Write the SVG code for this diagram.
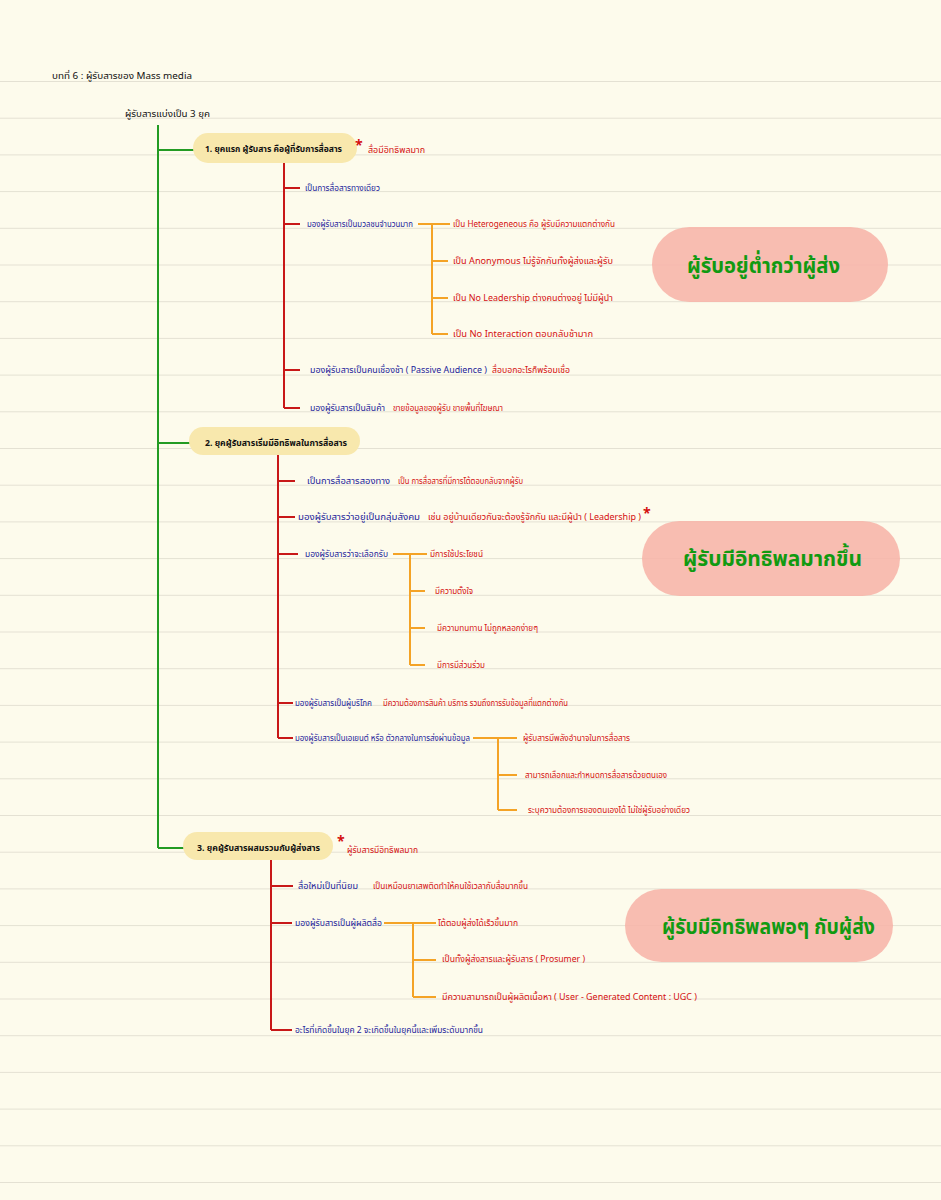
<svg xmlns="http://www.w3.org/2000/svg" width="941" height="1200" viewBox="0 0 941 1200">
<defs>
<pattern id="ruled" x="0" y="81" width="941" height="36.7" patternUnits="userSpaceOnUse">
<rect x="0" y="0" width="941" height="1" fill="#e4e1d3"/>
</pattern>
<style>
text{font-family:"Noto Sans Thai","Noto Sans","Liberation Sans",sans-serif;}
.t{font-size:9px;fill:#111;}
.b{font-size:9px;fill:#1c1c9a;}
.r{font-size:9px;fill:#d41010;}
.h{font-size:9px;fill:#111;font-weight:bold;}
.star{font-size:14px;fill:#d41010;font-weight:bold;}
.big{font-size:22px;fill:#119a11;font-weight:bold;}
.g{stroke:#239b23;stroke-width:2;fill:none;}
.red{stroke:#c81818;stroke-width:2;fill:none;}
.o{stroke:#f4a326;stroke-width:2;fill:none;}
.ypill{fill:#f8e8ad;}
.spill{fill:#f7b4a9;opacity:0.88;}
</style>
</defs>
<rect width="941" height="1200" fill="#fdfbec"/>
<rect x="0" y="81" width="941" height="1119" fill="url(#ruled)"/>

<g id="title">
<text class="t" x="52" y="79" textLength="140" lengthAdjust="spacingAndGlyphs">บทที่ 6  :  ผู้รับสารของ Mass media</text>
</g>
<g id="root">
<text class="t" x="125" y="117" textLength="85" lengthAdjust="spacingAndGlyphs">ผู้รับสารแบ่งเป็น  3  ยุค</text>
</g>

<g id="connectors">
<path class="g" d="M158 125 V848 M158 150 H195 M158 443 H191 M158 848 H185"/>
<path class="red" d="M284 163 V408 M284 188 H300 M284 224 H300 M284 370 H300 M284 408 H300"/>
<path class="o" d="M418 224 H450 M432 224 V334 M432 261 H448 M432 298 H448 M432 334 H448"/>
<path class="red" d="M278 455 V738 M278 481 H295 M278 517 H295 M278 554 H298 M278 703 H293 M278 738 H293"/>
<path class="o" d="M393 554 H427 M410 554 V665 M410 591 H425 M410 628 H425 M410 665 H425"/>
<path class="o" d="M473 738 H517 M498 738 V810 M498 775 H517 M498 810 H517"/>
<path class="red" d="M271 860 V1030 M271 886 H293 M271 923 H292 M271 1030 H292"/>
<path class="o" d="M384 923 H436 M413 923 V997 M413 960 H436 M413 997 H436"/>
</g>

<g id="era1">
<rect class="ypill" x="193" y="133" width="164" height="30" rx="15"/>
<text class="h" x="205" y="152" textLength="137" lengthAdjust="spacingAndGlyphs">1.   ยุคแรก ผู้รับสาร คือผู้ที่รับการสื่อสาร</text>
<text class="star" x="355" y="150">*</text>
<text class="r" x="368" y="153" textLength="57" lengthAdjust="spacingAndGlyphs">สื่อมีอิทธิพลมาก</text>
</g>
<g id="e1-a"><text class="b" x="305" y="191" textLength="75" lengthAdjust="spacingAndGlyphs">เป็นการสื่อสารทางเดียว</text></g>
<g id="e1-b"><text class="b" x="307" y="227" textLength="106" lengthAdjust="spacingAndGlyphs">มองผู้รับสารเป็นมวลชนจำนวนมาก</text></g>
<g id="e1-b1"><text class="r" x="453" y="227" textLength="162" lengthAdjust="spacingAndGlyphs">เป็น  Heterogeneous  คือ ผู้รับมีความแตกต่างกัน</text></g>
<g id="e1-b2"><text class="r" x="453" y="264" textLength="160" lengthAdjust="spacingAndGlyphs">เป็น  Anonymous  ไม่รู้จักกันทั้งผู้ส่งและผู้รับ</text></g>
<g id="e1-b3"><text class="r" x="453" y="301" textLength="160" lengthAdjust="spacingAndGlyphs">เป็น  No  Leadership  ต่างคนต่างอยู่ ไม่มีผู้นำ</text></g>
<g id="e1-b4"><text class="r" x="453" y="337" textLength="140" lengthAdjust="spacingAndGlyphs">เป็น  No  Interaction  ตอบกลับช้ามาก</text></g>
<g id="e1-c"><text class="b" x="310" y="373" textLength="177" lengthAdjust="spacingAndGlyphs">มองผู้รับสารเป็นคนเชื่องช้า  ( Passive Audience )</text><text class="r" x="492" y="373" textLength="78" lengthAdjust="spacingAndGlyphs">สื่อบอกอะไรก็พร้อมเชื่อ</text></g>
<g id="e1-d"><text class="b" x="310" y="411" textLength="75" lengthAdjust="spacingAndGlyphs">มองผู้รับสารเป็นสินค้า</text><text class="r" x="393" y="411" textLength="110" lengthAdjust="spacingAndGlyphs">ขายข้อมูลของผู้รับ  ขายพื้นที่โฆษณา</text></g>

<g id="era2">
<rect class="ypill" x="189" y="427" width="171" height="28" rx="14"/>
<text class="h" x="205" y="446" textLength="142" lengthAdjust="spacingAndGlyphs">2.   ยุคผู้รับสารเริ่มมีอิทธิพลในการสื่อสาร</text>
</g>
<g id="e2-a"><text class="b" x="307" y="484" textLength="83" lengthAdjust="spacingAndGlyphs">เป็นการสื่อสารสองทาง</text><text class="r" x="398" y="484" textLength="125" lengthAdjust="spacingAndGlyphs">เป็น   การสื่อสารที่มีการโต้ตอบกลับจากผู้รับ</text></g>
<g id="e2-b"><text class="b" x="298" y="520" textLength="122" lengthAdjust="spacingAndGlyphs">มองผู้รับสารว่าอยู่เป็นกลุ่มสังคม</text><text class="r" x="428" y="520" textLength="213" lengthAdjust="spacingAndGlyphs">เช่น  อยู่บ้านเดียวกันจะต้องรู้จักกัน และมีผู้นำ  ( Leadership )</text><text class="star" x="643" y="518">*</text></g>
<g id="e2-c"><text class="b" x="305" y="557" textLength="83" lengthAdjust="spacingAndGlyphs">มองผู้รับสารว่าจะเลือกรับ</text></g>
<g id="e2-c1"><text class="r" x="430" y="557" textLength="53" lengthAdjust="spacingAndGlyphs">มีการใช้ประโยชน์</text></g>
<g id="e2-c2"><text class="r" x="435" y="594" textLength="38" lengthAdjust="spacingAndGlyphs">มีความตั้งใจ</text></g>
<g id="e2-c3"><text class="r" x="437" y="631" textLength="101" lengthAdjust="spacingAndGlyphs">มีความทนทาน  ไม่ถูกหลอกง่ายๆ</text></g>
<g id="e2-c4"><text class="r" x="437" y="668" textLength="48" lengthAdjust="spacingAndGlyphs">มีการมีส่วนร่วม</text></g>
<g id="e2-d"><text class="b" x="295" y="706" textLength="77" lengthAdjust="spacingAndGlyphs">มองผู้รับสารเป็นผู้บริโภค</text><text class="r" x="383" y="706" textLength="185" lengthAdjust="spacingAndGlyphs">มีความต้องการสินค้า  บริการ  รวมถึงการรับข้อมูลที่แตกต่างกัน</text></g>
<g id="e2-e"><text class="b" x="295" y="741" textLength="175" lengthAdjust="spacingAndGlyphs">มองผู้รับสารเป็นเอเยนต์ หรือ ตัวกลางในการส่งผ่านข้อมูล</text></g>
<g id="e2-e1"><text class="r" x="523" y="741" textLength="107" lengthAdjust="spacingAndGlyphs">ผู้รับสารมีพลังอำนาจในการสื่อสาร</text></g>
<g id="e2-e2"><text class="r" x="525" y="778" textLength="142" lengthAdjust="spacingAndGlyphs">สามารถเลือกและกำหนดการสื่อสารด้วยตนเอง</text></g>
<g id="e2-e3"><text class="r" x="528" y="813" textLength="162" lengthAdjust="spacingAndGlyphs">ระบุความต้องการของตนเองได้  ไม่ใช่ผู้รับอย่างเดียว</text></g>

<g id="era3">
<rect class="ypill" x="183" y="832" width="150" height="28" rx="14"/>
<text class="h" x="197" y="851" textLength="123" lengthAdjust="spacingAndGlyphs">3.   ยุคผู้รับสารผสมรวมกับผู้ส่งสาร</text>
<text class="star" x="337" y="846">*</text>
<text class="r" x="347" y="853" textLength="71" lengthAdjust="spacingAndGlyphs">ผู้รับสารมีอิทธิพลมาก</text>
</g>
<g id="e3-a"><text class="b" x="298" y="889" textLength="60" lengthAdjust="spacingAndGlyphs">สื่อใหม่เป็นที่นิยม</text><text class="r" x="373" y="889" textLength="155" lengthAdjust="spacingAndGlyphs">เป็นเหมือนยาเสพติดทำให้คนใช้เวลากับสื่อมากขึ้น</text></g>
<g id="e3-b"><text class="b" x="295" y="926" textLength="87" lengthAdjust="spacingAndGlyphs">มองผู้รับสารเป็นผู้ผลิตสื่อ</text></g>
<g id="e3-b1"><text class="r" x="438" y="926" textLength="80" lengthAdjust="spacingAndGlyphs">โต้ตอบผู้ส่งได้เร็วขึ้นมาก</text></g>
<g id="e3-b2"><text class="r" x="442" y="962" textLength="143" lengthAdjust="spacingAndGlyphs">เป็นทั้งผู้ส่งสารและผู้รับสาร  ( Prosumer )</text></g>
<g id="e3-b3"><text class="r" x="442" y="1000" textLength="255" lengthAdjust="spacingAndGlyphs">มีความสามารถเป็นผู้ผลิตเนื้อหา   ( User - Generated  Content  :  UGC )</text></g>
<g id="e3-c"><text class="b" x="295" y="1033" textLength="188" lengthAdjust="spacingAndGlyphs">อะไรที่เกิดขึ้นในยุค  2  จะเกิดขึ้นในยุคนี้และเพิ่มระดับมากขึ้น</text></g>

<g id="note1">
<rect class="spill" x="652" y="227" width="236" height="75" rx="37.5"/>
<text class="big" x="687" y="273" textLength="153" lengthAdjust="spacingAndGlyphs">ผู้รับอยู่ต่ำกว่าผู้ส่ง</text>
</g>
<g id="note2">
<rect class="spill" x="642" y="521" width="258" height="75" rx="37.5"/>
<text class="big" x="683" y="566" textLength="179" lengthAdjust="spacingAndGlyphs">ผู้รับมีอิทธิพลมากขึ้น</text>
</g>
<g id="note3">
<rect class="spill" x="625" y="889" width="268" height="73" rx="36.5"/>
<text class="big" x="662" y="934" textLength="213" lengthAdjust="spacingAndGlyphs">ผู้รับมีอิทธิพลพอๆ กับผู้ส่ง</text>
</g>
</svg>
